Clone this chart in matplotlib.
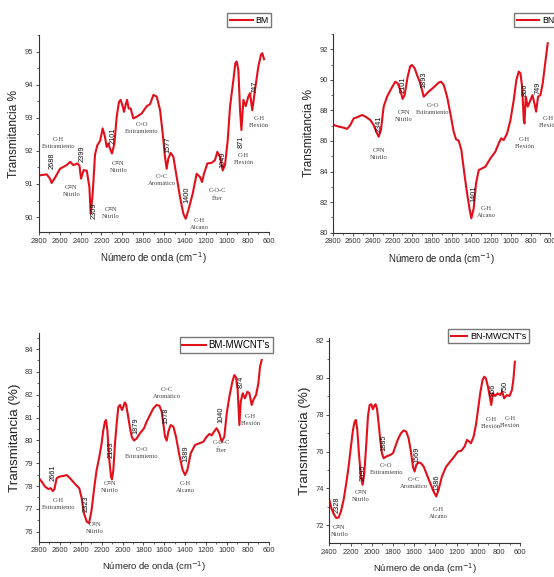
import matplotlib
matplotlib.use('Agg')
import matplotlib.pyplot as plt
from matplotlib.ticker import MultipleLocator

plt.rcParams['font.family'] = ['Liberation Sans', 'DejaVu Sans']

# --- BM spectrum ---
bm_wn = [2794, 2723, 2692, 2676, 2644, 2596, 2532, 2500, 2468, 2430, 2410, 2395, 2370, 2340,
         2315, 2303, 2284, 2261, 2239, 2213, 2188, 2166, 2150, 2134, 2118, 2099, 2076, 2054,
         2032, 2016, 1997, 1984, 1968, 1955, 1939, 1920, 1895, 1863, 1815, 1767, 1735, 1703,
         1671, 1639, 1614, 1592, 1576, 1560, 1538, 1512, 1480, 1448, 1416, 1394, 1369, 1327,
         1289, 1257, 1238, 1219, 1187, 1145, 1114, 1091, 1066, 1040, 1018, 992, 970, 938, 919,
         906, 890, 874, 861, 842, 820, 795, 779, 757, 731, 699, 674, 661, 645]
bm_t = [91.26, 91.29, 91.16, 91.03, 91.19, 91.46, 91.57, 91.67, 91.57, 91.62, 91.55, 91.16, 91.42, 91.40,
        90.90, 90.10, 90.70, 91.90, 92.17, 92.30, 92.68, 92.42, 92.12, 92.22, 92.07, 91.92, 92.22, 93.03,
        93.48, 93.54, 93.35, 93.18, 93.40, 93.54, 93.28, 93.28, 92.98, 93.03, 93.13, 93.35, 93.41, 93.69,
        93.64, 93.23, 92.53, 91.82, 91.46, 91.77, 91.94, 91.82, 91.21, 90.60, 90.10, 89.95, 90.20, 90.71,
        91.31, 91.21, 91.06, 91.31, 91.62, 91.64, 91.72, 91.97, 91.82, 91.41, 91.57, 92.32, 93.33, 94.14, 94.65,
        94.70, 94.44, 93.23, 92.63, 93.54, 93.35, 93.64, 93.74, 93.23, 93.84, 94.55, 94.90, 94.95, 94.77]

# --- BN spectrum ---
bn_wn = [2797, 2746, 2696, 2662, 2628, 2594, 2561, 2510, 2476, 2426, 2392, 2365, 2341, 2318, 2290,
         2256, 2206, 2172, 2148, 2121, 2098, 2078, 2047, 2020, 2003, 1976, 1952, 1925, 1901, 1884,
         1867, 1834, 1783, 1732, 1708, 1681, 1647, 1614, 1580, 1556, 1529, 1502, 1472, 1444, 1417,
         1401, 1377, 1353, 1326, 1292, 1258, 1208, 1157, 1123, 1099, 1072, 1038, 1004, 971, 944, 920,
         903, 886, 869, 862, 849, 829, 808, 781, 761, 744, 724, 700, 677, 656, 639, 626]
bn_t = [87.05, 86.94, 86.87, 86.79, 87.05, 87.48, 87.55, 87.70, 87.60, 87.37, 87.05, 86.61, 86.28, 86.72, 88.25,
        88.90, 89.51, 89.88, 89.77, 89.34, 88.75, 89.00, 90.20, 90.90, 90.97, 90.76, 90.32, 89.88, 89.34, 88.90,
        89.00, 89.23, 89.51, 89.82, 89.88, 89.67, 88.90, 87.81, 86.61, 86.11, 86.02, 85.41, 83.88, 82.57, 81.48,
        80.94, 81.59, 83.23, 84.10, 84.21, 84.32, 84.86, 85.30, 85.85, 86.17, 86.06, 86.50, 87.37, 88.68, 89.99, 90.54,
        90.43, 89.56, 87.37, 87.15, 88.90, 88.25, 88.57, 89.00, 88.46, 87.92, 88.90, 89.00, 89.77, 90.87, 91.74, 92.40]

# --- BM-MWCNT's spectrum ---
bmc_wn = [2800, 2774, 2742, 2711, 2688, 2669, 2653, 2631, 2605, 2567, 2535, 2503, 2455, 2414, 2391,
          2369, 2343, 2321, 2296, 2270, 2248, 2222, 2200, 2184, 2168, 2158, 2145, 2130, 2110, 2101,
          2088, 2072, 2056, 2040, 2024, 2005, 1992, 1979, 1967, 1951, 1928, 1912, 1890, 1864, 1833,
          1794, 1769, 1737, 1705, 1673, 1647, 1625, 1609, 1593, 1577, 1561, 1539, 1513, 1488, 1456,
          1424, 1401, 1379, 1347, 1306, 1264, 1226, 1194, 1168, 1146, 1124, 1098, 1073, 1050, 1025,
          1002, 977, 948, 929, 913, 897, 881, 868, 849, 827, 804, 785, 763, 747, 721, 699, 683, 667]
bmc_t = [78.34, 78.19, 77.97, 77.87, 77.90, 77.78, 77.85, 78.34, 78.41, 78.44, 78.48, 78.34, 78.09, 77.90, 77.46,
         76.80, 76.44, 76.37, 76.95, 77.97, 78.70, 79.28, 79.87, 80.45, 80.82, 80.89, 80.45, 79.28, 78.41, 78.29,
         78.70, 79.87, 80.74, 81.47, 81.55, 81.33, 81.47, 81.66, 81.59, 81.18, 80.53, 80.16, 79.99, 80.09, 80.31,
         80.53, 80.82, 81.11, 81.40, 81.55, 81.52, 81.26, 80.74, 80.16, 79.99, 80.38, 80.67, 80.60, 80.16, 79.36,
         78.70, 78.48, 78.70, 79.43, 79.80, 79.87, 79.94, 80.16, 80.28, 80.22, 80.38, 80.53, 80.31, 79.94, 80.16,
         81.18, 81.91, 82.57, 82.86, 82.76, 82.20, 80.67, 81.69, 82.06, 81.84, 82.13, 82.06, 81.55, 81.77, 81.99, 82.50, 83.23, 83.52]

# --- BN-MWCNT's spectrum ---
bnc_wn = [2400, 2381, 2359, 2334, 2312, 2290, 2265, 2240, 2218, 2196, 2177, 2161, 2149, 2136, 2121,
          2102, 2086, 2070, 2051, 2036, 2020, 2004, 1989, 1976, 1964, 1951, 1935, 1920, 1904, 1888,
          1863, 1825, 1800, 1778, 1753, 1725, 1700, 1675, 1653, 1631, 1612, 1596, 1580, 1558, 1537,
          1511, 1480, 1449, 1417, 1392, 1370, 1339, 1298, 1260, 1222, 1188, 1157, 1125, 1103, 1081,
          1065, 1040, 1018, 999, 978, 956, 940, 924, 905, 890, 874, 858, 836, 814, 789, 770, 752,
          726, 701, 679, 664, 651]
bnc_t = [73.39, 72.94, 72.63, 72.40, 72.43, 72.76, 73.39, 74.29, 75.19, 76.27, 77.17, 77.62, 77.71, 77.17, 75.91,
         74.65, 74.20, 74.83, 76.45, 77.89, 78.52, 78.56, 78.29, 78.47, 78.56, 78.34, 77.53, 76.63, 75.91, 75.64,
         75.73, 75.82, 75.91, 76.27, 76.67, 76.99, 77.14, 77.08, 76.72, 76.00, 75.19, 74.92, 75.28, 75.41, 75.37,
         75.19, 74.74, 74.29, 73.84, 73.57, 73.93, 74.65, 75.19, 75.46, 75.73, 76.00, 76.04, 76.27, 76.63, 76.54,
         76.45, 76.81, 77.44, 78.25, 79.15, 79.87, 80.05, 79.96, 79.51, 79.06, 78.52, 79.15, 79.01, 79.15, 79.06, 79.24, 78.88,
         79.06, 79.01, 79.33, 79.96, 80.86]

# annotations: (text, wavenumber, T, rotated?)
bm_notes = [('C-H\nEstiramiento', 2612, 92.23, 0), ('2688', 2669, 91.69, 1), ('2399', 2389, 91.9, 1),
            ('C≡N\nNitrilo', 2488, 90.78, 0), ('2309', 2268, 90.2, 1), ('C≡N\nNitrilo', 2108, 90.13, 0),
            ('2101', 2086, 92.47, 1), ('C≡N\nNitrilo', 2038, 91.52, 0), ('C=O\nEstiramiento', 1815, 92.68, 0),
            ('1577', 1560, 92.17, 1), ('C=C\nAromático', 1624, 91.11, 0), ('1400', 1385, 90.66, 1),
            ('C-H\nAlcano', 1267, 89.8, 0), ('1049', 1040, 91.72, 1), ('C-O-C\nÉter', 1091, 90.69, 0),
            ('871', 868, 92.27, 1), ('C-H\nFlexión', 839, 91.75, 0), ('747', 731, 93.94, 1),
            ('C-H\nFlexión', 693, 92.88, 0)]
bn_notes = [('2341', 2341, 87.16, 1), ('C≡N\nNitrilo', 2339, 85.15, 0), ('2101', 2095, 89.67, 1),
            ('C≡N\nNitrilo', 2087, 87.64, 0), ('1893', 1884, 89.99, 1), ('C=O\nEstiramiento', 1793, 88.12, 0),
            ('1401', 1377, 82.57, 1), ('C-H\nAlcano', 1249, 81.37, 0), ('C-H\nFlexión', 863, 85.89, 0),
            ('866', 856, 89.34, 1), ('749', 729, 89.51, 1), ('C-H\nFlexión', 616, 87.26, 0)]
bmc_notes = [('2661', 2663, 78.58, 1), ('C-H\nEstiramiento', 2612, 77.21, 0), ('2323', 2353, 77.21, 1),
             ('C≡N\nNitrilo', 2264, 76.15, 0), ('2103', 2110, 79.58, 1), ('C≡N\nNitrilo', 2120, 77.94, 0),
             ('1879', 1871, 80.63, 1), ('C=O\nEstiramiento', 1817, 79.43, 0), ('C=C\nAromático', 1577, 82.06, 0),
             ('1578', 1584, 81.07, 1), ('1389', 1392, 79.43, 1), ('C-H\nAlcano', 1401, 77.94, 0),
             ('1040', 1060, 81.11, 1), ('C-O-C\nÉter', 1050, 79.72, 0), ('874', 865, 82.57, 1),
             ('C-H\nFlexión', 772, 80.89, 0)]
bnc_notes = [('2328', 2328, 73.12, 1), ('C≡N\nNitrilo', 2306, 71.68, 0), ('2095', 2083, 74.83, 1),
             ('C≡N\nNitrilo', 2102, 73.57, 0), ('1885', 1882, 76.45, 1), ('C=O\nEstiramiento', 1863, 75.05, 0),
             ('1569', 1574, 75.82, 1), ('C=C\nAromático', 1606, 74.32, 0), ('1386', 1386, 74.29, 1),
             ('C-H\nAlcano', 1370, 72.67, 0), ('866', 858, 79.33, 1), ('C-H\nFlexión', 874, 77.53, 0),
             ('750', 739, 79.51, 1), ('C-H\nFlexión', 695, 77.62, 0)]

W, H = 554, 577
fig = plt.figure(figsize=(W / 100, H / 100), dpi=100)


def px_axes(l, r, t, b):
    return fig.add_axes([l / W, 1 - b / H, (r - l) / W, (b - t) / H])


def panel(ax, wn, t, notes, name, xlim, ylim, ymaj, ymin, ylabel, ylab_size, xlab_size,
          leg_xy, leg_loc, leg_size, hlen):
    ax.plot(wn, t, color='#e3101c', lw=1.5, label=name)
    ax.set_xlim(*xlim)
    ax.set_ylim(*ylim)
    ax.xaxis.set_major_locator(MultipleLocator(200))
    ax.xaxis.set_minor_locator(MultipleLocator(100))
    ax.yaxis.set_major_locator(MultipleLocator(ymaj))
    ax.yaxis.set_minor_locator(MultipleLocator(ymin))
    for s in ('top', 'right'):
        ax.spines[s].set_visible(False)
    for s in ('left', 'bottom'):
        ax.spines[s].set_linewidth(0.8)
        ax.spines[s].set_color('#333333')
    ax.tick_params(which='major', length=2.5, width=0.6, labelsize=5.4, pad=1.5, colors='#333333')
    ax.tick_params(which='minor', length=1.5, width=0.5, colors='#333333')
    ax.set_xlabel('Número de onda (cm$^{-1}$)', fontsize=xlab_size, labelpad=4, color='#222222')
    ax.set_ylabel(ylabel, fontsize=ylab_size, labelpad=3, color='#222222')
    for txt, x, y, rot in notes:
        if rot:
            ax.text(x, y, txt, rotation=90, ha='center', va='center', fontsize=5.3, color='#111111')
        else:
            ax.text(x, y, txt, ha='center', va='center', fontsize=4.7, color='#444444',
                    family=['Liberation Serif', 'DejaVu Serif'], linespacing=1.5)
    ax.legend(loc=leg_loc, bbox_to_anchor=(leg_xy[0] / W, 1 - leg_xy[1] / H),
              bbox_transform=fig.transFigure, fontsize=leg_size, frameon=True, fancybox=False,
              edgecolor='#555555', handlelength=hlen, handletextpad=0.3, borderpad=0.3,
              borderaxespad=0)


ax1 = px_axes(38.7, 268.7, 35, 232)
panel(ax1, bm_wn, bm_t, bm_notes, 'BM', (2800, 600), (89.55, 95.5), 1, 0.5,
      'Transmitancia %', 8.6, 7, (271, 13), 'upper right', 6.3, 2.6)

ax2 = px_axes(333.4, 550.3, 34, 232.7)
panel(ax2, bn_wn, bn_t, bn_notes, 'BN', (2800, 600), (80, 93), 2, 1,
      'Transmitancia %', 8.6, 7, (514, 13), 'upper left', 6.3, 2.6)

ax3 = px_axes(39, 268.7, 333.3, 541.7)
panel(ax3, bmc_wn, bmc_t, bmc_notes, "BM-MWCNT's", (2800, 600), (75.56, 84.69), 1, 0.5,
      'Transmitancia (%)', 9.6, 6.8, (273, 337), 'upper right', 7, 2.4)

ax4 = px_axes(329.3, 520.3, 338.3, 543)
panel(ax4, bnc_wn, bnc_t, bnc_notes, "BN-MWCNT's", (2400, 600), (71.05, 82.13), 2, 1,
      'Transmitancia (%)', 9.6, 6.8, (529, 329), 'upper right', 6.5, 1.8)

fig.savefig('out.png', dpi=100)
